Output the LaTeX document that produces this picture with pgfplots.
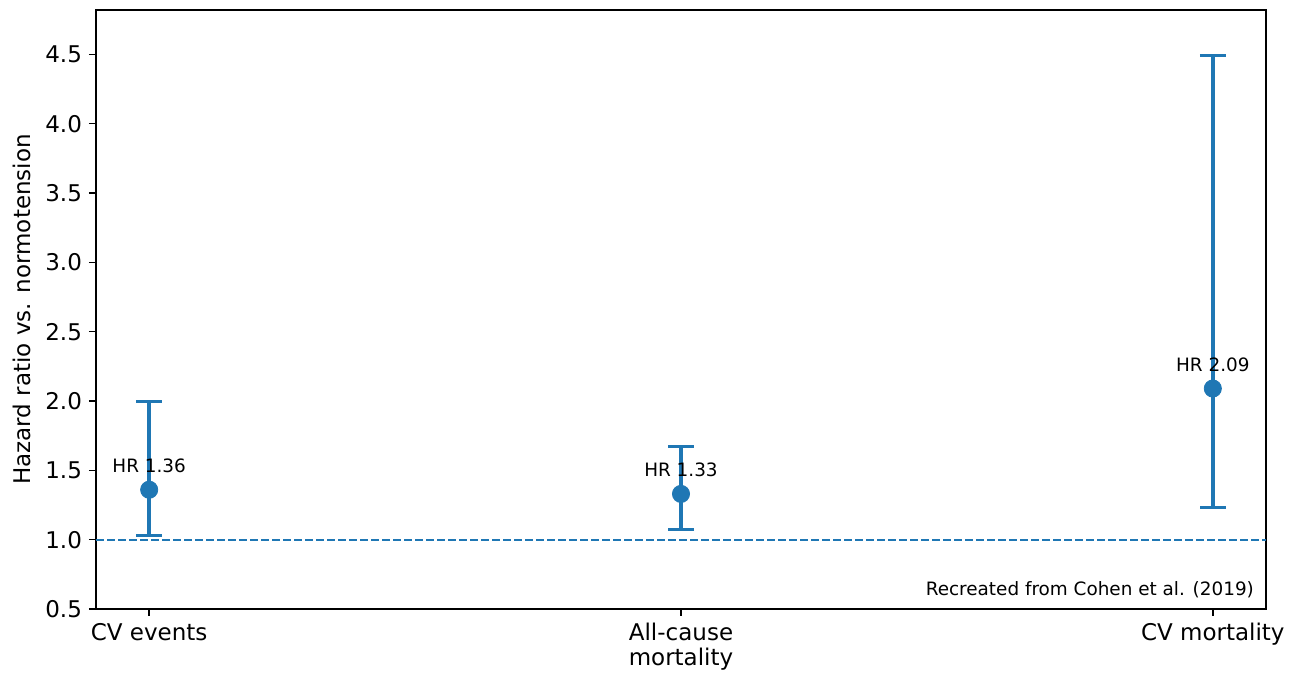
\documentclass[border=0pt]{standalone}
\usepackage{pgfplots}
\pgfplotsset{compat=1.18}
\usepackage{fontspec}
\setmainfont{DejaVu Sans}
\definecolor{mplblue}{HTML}{1F77B4}
\pgfplotstableread{
x  y     eplus  eminus
0  1.36  0.64   0.33
1  1.33  0.34   0.26
2  2.09  2.40   0.86
}\hrdata
\begin{document}
\begin{tikzpicture}
\begin{axis}[
  name=ax,
  scale only axis,
  width=585pt, height=299.5pt,
  xmin=-0.1, xmax=2.1,
  ymin=0.5, ymax=4.82,
  xtick={0,1,2},
  xticklabels={CV events, {All-cause\\mortality}, CV mortality},
  xticklabel style={align=center, font=\fontsize{11.5}{12.5}\selectfont},
  ytick={0.5,1.0,...,4.5},
  yticklabel style={font=\fontsize{11.5}{12.5}\selectfont,
    /pgf/number format/.cd, fixed, fixed zerofill, precision=1},
  /pgf/number format/assume math mode=true,
  tick align=outside,
  tick pos=left,
  major tick length=3.5pt,
  axis line style={line width=0.75pt},
  every tick/.style={line width=0.75pt, black},
  ylabel={Hazard ratio vs. normotension},
  every axis y label/.style={at={(axis description cs:-0.0632,0.5)}, rotate=90, anchor=center, font=\fontsize{11.5}{12.5}\selectfont},
  clip=false,
]
\addplot[draw=mplblue, line width=0.9pt, dash pattern=on 3.8pt off 1.7pt, no marks, forget plot]
  coordinates {(-0.1,1) (2.1,1)};
\addplot[mplblue, only marks, mark=*, mark size=4.3pt, mark options={fill=mplblue, draw=mplblue},
  error bars/.cd, y dir=both, y explicit,
  error bar style={line width=2.3pt, mplblue},
  error mark options={rotate=90, mark size=6.5pt, line width=1.5pt, mplblue}]
  table[x=x, y=y, y error plus=eplus, y error minus=eminus] {\hrdata};
\node[anchor=base, yshift=8.5pt, font=\fontsize{9.2}{10}\selectfont] at (axis cs:0,1.36) {HR 1.36};
\node[anchor=base, yshift=8.5pt, font=\fontsize{9.2}{10}\selectfont] at (axis cs:1,1.33) {HR 1.33};
\node[anchor=base, yshift=8.5pt, font=\fontsize{9.2}{10}\selectfont] at (axis cs:2,2.09) {HR 2.09};
\node[anchor=south east, inner sep=0pt, font=\fontsize{9.2}{10}\selectfont] at (rel axis cs:0.99,0.017) {Recreated from Cohen et al. (2019)};
\end{axis}
\pgfresetboundingbox
\path ([shift={(-48pt,-32pt)}]ax.south west) rectangle ([shift={(13pt,5pt)}]ax.north east);
\end{tikzpicture}
\end{document}
